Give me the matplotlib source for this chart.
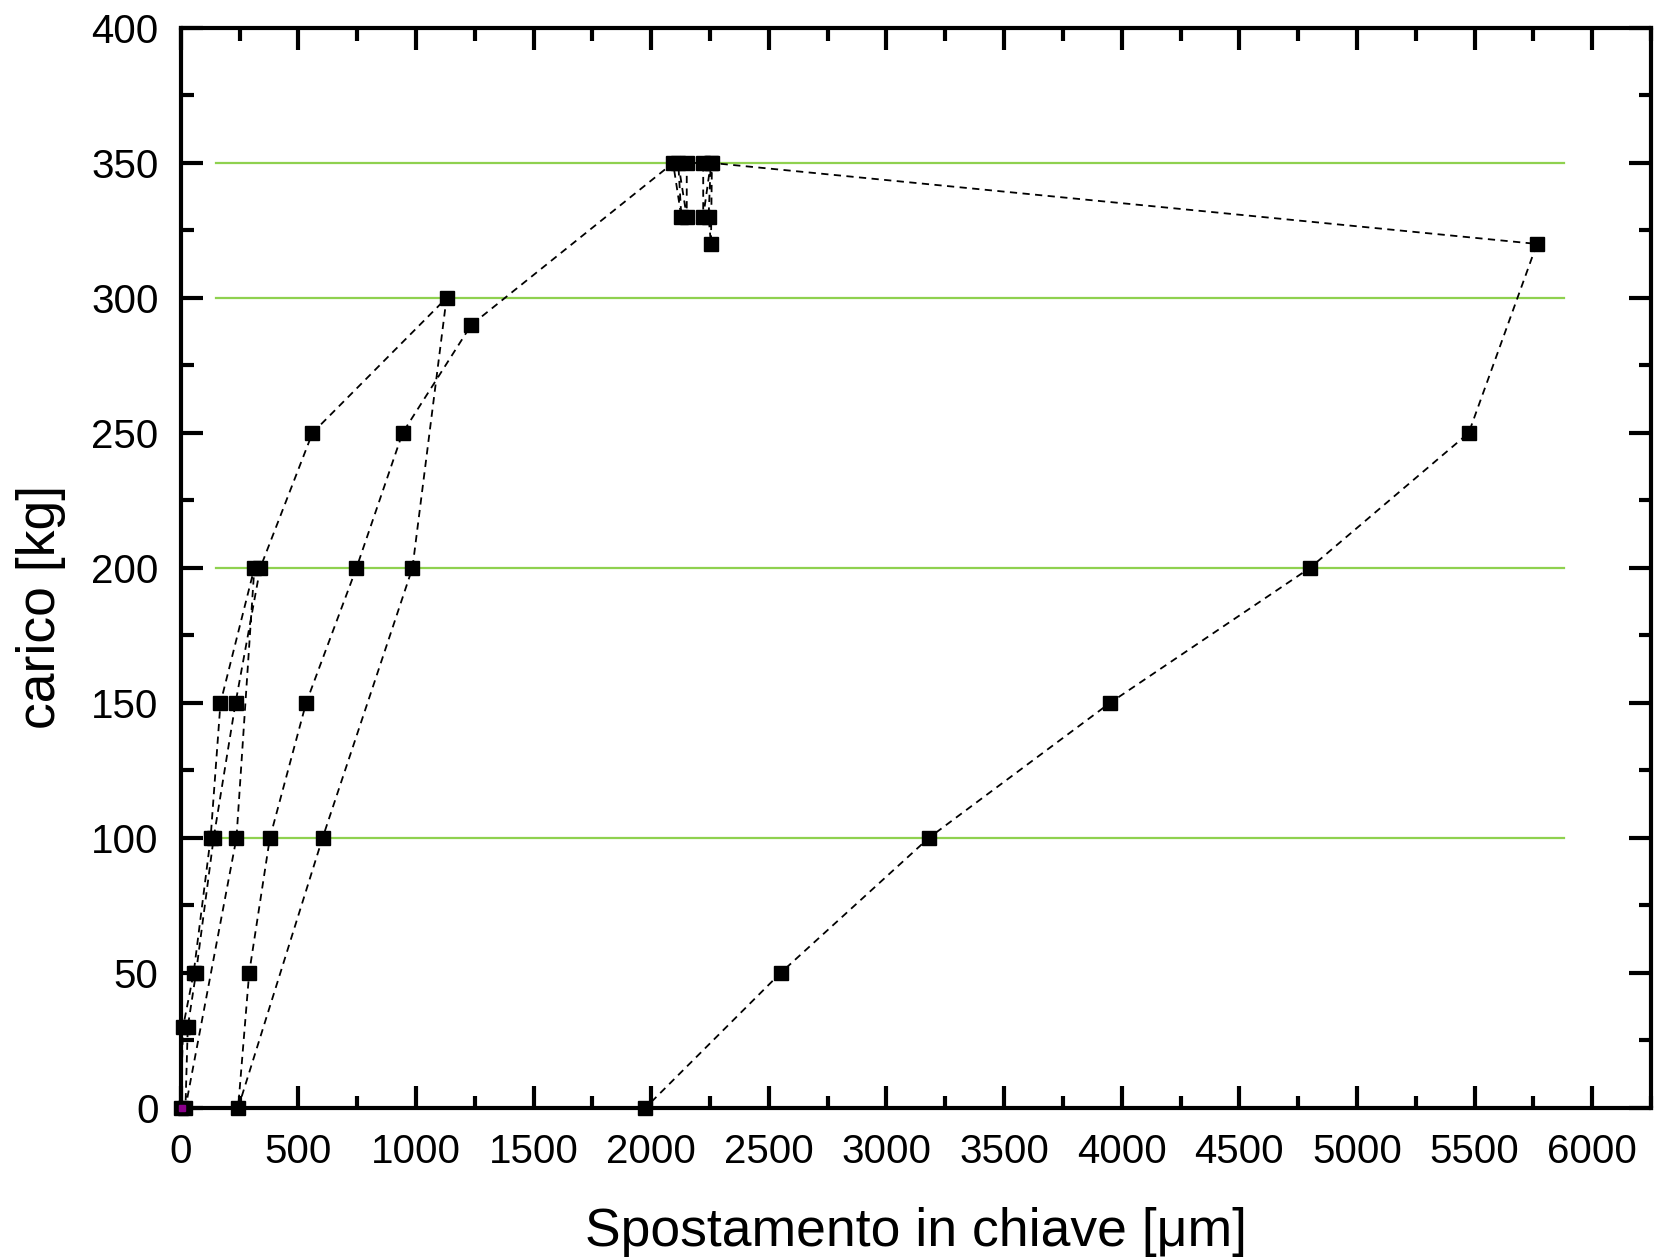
import matplotlib
matplotlib.use('Agg')
import matplotlib.pyplot as plt
from matplotlib.ticker import MultipleLocator

plt.rcParams['font.family'] = ['Liberation Sans', 'DejaVu Sans']

# displacement [um] and load [kg], in the order the test was run
spostamento = [0, 10, 55, 127, 169, 313,
               237, 20,
               30, 65, 140, 233, 338, 560, 1130,
               985, 603, 244,
               291, 379, 533, 747, 943, 1235,
               2093, 2128, 2115, 2151, 2151, 2221, 2221, 2253, 2244, 2254, 2258,
               5765, 5475, 4800, 3950, 3180, 2550, 1975]
carico = [0, 30, 50, 100, 150, 200,
          100, 0,
          30, 50, 100, 150, 200, 250, 300,
          200, 100, 0,
          50, 100, 150, 200, 250, 290,
          350, 330, 350, 330, 350, 350, 330, 350, 330, 320, 350,
          320, 250, 200, 150, 100, 50, 0]

livelli = [100, 200, 300, 350]
livelli_x = (150, 5880)

fig = plt.figure(figsize=(16.58, 12.59), dpi=100)
ax = fig.add_axes([0.109, 0.12, 0.8868, 0.8578])

for y in livelli:
    ax.plot(livelli_x, [y, y], color='#8fd14f', lw=1.6, zorder=1)

ax.plot(spostamento, carico, color='black', lw=1.3, linestyle=(0, (4, 3)),
        marker='s', markersize=9.5, markerfacecolor='black', markeredgecolor='black',
        zorder=3, clip_on=False)
ax.plot([5], [0], marker='s', markersize=4, color='#8b008b', linestyle='none',
        zorder=4, clip_on=False)

ax.set_xlim(0, 6250)
ax.set_ylim(0, 400)
ax.xaxis.set_major_locator(MultipleLocator(500))
ax.xaxis.set_minor_locator(MultipleLocator(250))
ax.yaxis.set_major_locator(MultipleLocator(50))
ax.yaxis.set_minor_locator(MultipleLocator(25))
ax.tick_params(which='both', direction='in', top=True, right=True, width=3,
               labelsize=29)
ax.tick_params(axis='x', pad=18)
ax.tick_params(axis='y', pad=16)
ax.tick_params(which='major', length=16)
ax.tick_params(which='minor', length=9)
for s in ax.spines.values():
    s.set_linewidth(3)

ax.set_xlabel('Spostamento in chiave [μm]', fontsize=38.5, labelpad=26)
ax.set_ylabel('carico [kg]', fontsize=38.5, labelpad=20)
ax.yaxis.set_label_coords(-0.078, 0.464)

fig.savefig('out.png', dpi=100)
